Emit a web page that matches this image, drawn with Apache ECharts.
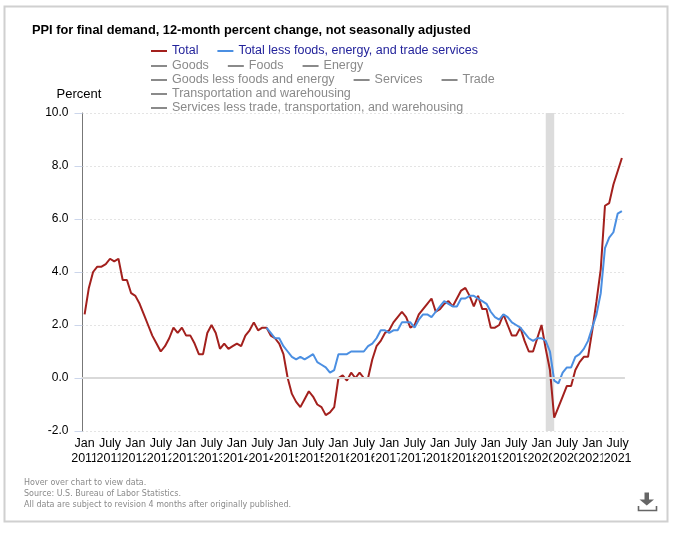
<!DOCTYPE html>
<html>
<head>
<meta charset="utf-8">
<script src="https://cdn.jsdelivr.net/npm/echarts@6/dist/echarts.min.js"></script>
<style>
html,body{margin:0;padding:0;background:#fff;}
#chart{width:678px;height:534px;}
</style>
</head>
<body>
<div id="chart"></div>
<script>
// Months Jan 2011 .. Aug 2021
var startYear = 2011, endYear = 2021, endMonth = 8;
var categories = [];
for (var y = startYear; y <= endYear; y++) {
  for (var m = 1; m <= 12; m++) {
    if (y === endYear && m > endMonth) break;
    categories.push(y + '-' + (m < 10 ? '0' + m : '' + m));
  }
}

// PPI final demand, 12-month percent change (Total)
var total = [
  2.4, 3.4, 4.0, 4.2, 4.2, 4.3, 4.5, 4.4, 4.5, 3.7, 3.7, 3.2,   // 2011
  3.1, 2.8, 2.4, 2.0, 1.6, 1.3, 1.0, 1.2, 1.5, 1.9, 1.7, 1.9,   // 2012
  1.6, 1.6, 1.3, 0.9, 0.9, 1.7, 2.0, 1.7, 1.1, 1.3, 1.1, 1.2,   // 2013
  1.3, 1.2, 1.6, 1.8, 2.1, 1.8, 1.9, 1.9, 1.6, 1.5, 1.3, 0.9,   // 2014
  0.0, -0.6, -0.9, -1.1, -0.8, -0.5, -0.7, -1.0, -1.1, -1.4, -1.3, -1.1, // 2015
  0.0, 0.1, -0.1, 0.2, 0.0, 0.2, 0.0, 0.0, 0.7, 1.2, 1.4, 1.7,  // 2016
  1.8, 2.1, 2.3, 2.5, 2.3, 1.9, 2.0, 2.4, 2.6, 2.8, 3.0, 2.5,   // 2017
  2.6, 2.8, 2.9, 2.7, 3.0, 3.3, 3.4, 3.1, 2.7, 3.1, 2.6, 2.6,   // 2018
  1.9, 1.9, 2.0, 2.4, 2.0, 1.6, 1.6, 1.9, 1.4, 1.0, 1.0, 1.5,   // 2019
  2.0, 1.1, 0.3, -1.5, -1.1, -0.7, -0.3, -0.3, 0.3, 0.6, 0.8, 0.8, // 2020
  1.8, 2.9, 4.1, 6.5, 6.6, 7.3, 7.8, 8.3                        // 2021
];

// Total less foods, energy, and trade services (series begins Aug 2014)
var coreStart = '2014-08';
var core = [
  1.9, 1.7, 1.5, 1.5, 1.2,                                      // 2014
  1.0, 0.8, 0.7, 0.8, 0.7, 0.8, 0.9, 0.6, 0.5, 0.4, 0.2, 0.3,   // 2015
  0.9, 0.9, 0.9, 1.0, 1.0, 1.0, 1.0, 1.2, 1.3, 1.5, 1.8, 1.8,   // 2016
  1.7, 1.8, 1.8, 2.1, 2.1, 2.1, 1.9, 2.2, 2.4, 2.4, 2.3, 2.5,   // 2017
  2.7, 2.9, 2.8, 2.7, 2.7, 3.0, 3.0, 3.1, 3.1, 3.0, 2.9, 2.8,   // 2018
  2.5, 2.3, 2.2, 2.4, 2.3, 2.1, 2.0, 1.9, 1.7, 1.5, 1.4, 1.5,   // 2019
  1.5, 1.4, 1.0, -0.1, -0.2, 0.2, 0.4, 0.4, 0.8, 0.9, 1.1, 1.4, // 2020
  1.9, 2.4, 3.2, 4.9, 5.3, 5.5, 6.2, 6.3                        // 2021
];

var yTicks = { min: -2, max: 10, interval: 2 };
var recession = ['2020-02', '2020-04'];
var monthLabels = { '01': 'Jan', '07': 'July' };

var seriesNames = ['Total', 'Total less foods, energy, and trade services'];
var legendRows = [
  ['Total', 'Total less foods, energy, and trade services'],
  ['Goods', 'Foods', 'Energy'],
  ['Goods less foods and energy', 'Services', 'Trade'],
  ['Transportation and warehousing'],
  ['Services less trade, transportation, and warehousing']
];
var inactiveNames = ['Goods', 'Foods', 'Energy', 'Goods less foods and energy', 'Services', 'Trade',
  'Transportation and warehousing', 'Services less trade, transportation, and warehousing'];

var footerLines = [
  'Hover over chart to view data.',
  'Source: U.S. Bureau of Labor Statistics.',
  'All data are subject to revision 4 months after originally published.'
];

var coreOffset = categories.indexOf(coreStart);
var coreData = [];
for (var i = 0; i < coreOffset; i++) coreData.push(null);
coreData = coreData.concat(core);

var FONT = 'Liberation Sans, Arial, sans-serif';
var selectedMap = {};
inactiveNames.forEach(function (n) { selectedMap[n] = false; });

var legendTops = [44, 59, 73, 87, 101];
var legends = legendRows.map(function (row, k) {
  return {
    data: row,
    left: 151,
    top: legendTops[k],
    padding: 0,
    itemGap: 19,
    itemWidth: 16,
    itemHeight: 2,
    icon: 'rect',
    inactiveColor: '#8a8a8a',
    selected: selectedMap,
    textStyle: { fontSize: 12.5, color: '#23239b', fontFamily: FONT, lineHeight: 14 }
  };
});

var series = [
  {
    name: seriesNames[0], type: 'line', data: total, showSymbol: false, symbol: 'none',
    lineStyle: { color: '#a3201d', width: 2 }, itemStyle: { color: '#a3201d' },
    z: 3,
    markArea: {
      silent: true,
      itemStyle: { color: '#dcdcdc' },
      data: [[{ xAxis: recession[0] }, { xAxis: recession[1] }]]
    },
    markLine: {
      silent: true, symbol: ['none', 'none'], label: { show: false },
      lineStyle: { color: '#d9d9d9', width: 2, type: 'solid' },
      data: [{ yAxis: 0 }]
    }
  },
  {
    name: seriesNames[1], type: 'line', data: coreData, showSymbol: false, symbol: 'none',
    lineStyle: { color: '#4b8fe2', width: 2 }, itemStyle: { color: '#4b8fe2' }, z: 4
  }
];
inactiveNames.forEach(function (n) {
  series.push({ name: n, type: 'line', data: [], symbol: 'none', lineStyle: { color: '#8a8a8a' }, itemStyle: { color: '#8a8a8a' } });
});

var graphics = [
  { type: 'rect', shape: { x: 4.5, y: 6.5, width: 663, height: 515 }, style: { fill: 'none', stroke: '#d0d0d0', lineWidth: 2 }, silent: true, z: -10 }
];
footerLines.forEach(function (t, k) {
  graphics.push({ type: 'text', x: 24, y: 483 + k * 11, style: { text: t, font: '8px "DejaVu Sans", sans-serif', fill: '#8a8a8a', verticalAlign: 'middle' }, silent: true });
});
graphics.push({ type: 'rect', shape: { x: 644.5, y: 492.5, width: 4.5, height: 7.5 }, style: { fill: '#666' }, silent: true });
graphics.push({ type: 'polygon', shape: { points: [[639.5, 499.5], [654, 499.5], [646.75, 505.5]] }, style: { fill: '#666' }, silent: true });
graphics.push({ type: 'polyline', shape: { points: [[638.5, 506], [638.5, 510.5], [656.5, 510.5], [656.5, 506]] }, style: { stroke: '#666', lineWidth: 1.6, fill: 'none' }, silent: true });

var option = {
  animation: false,
  backgroundColor: '#fff',
  title: {
    text: 'PPI for final demand, 12-month percent change, not seasonally adjusted',
    left: 32, top: 24, padding: 0,
    textStyle: { fontSize: 12.8, fontWeight: 'bold', color: '#000', fontFamily: FONT }
  },
  legend: legends,
  grid: { left: 82.5, right: 54, top: 113, bottom: 103, containLabel: false, outerBoundsMode: 'none' },
  xAxis: {
    type: 'category',
    data: categories,
    boundaryGap: true,
    axisLine: { show: true, lineStyle: { color: '#d0d0d0', width: 2 } },
    axisTick: { show: false },
    splitLine: { show: false },
    axisLabel: {
      interval: 0,
      formatter: function (val) {
        var mon = monthLabels[val.slice(5)];
        if (!mon) return '';
        return '{b|' + mon + '}\n{b|' + val.slice(0, 4) + '}';
      },
      hideOverlap: false,
      color: '#000', fontSize: 12.5, fontFamily: FONT, lineHeight: 15, margin: 5,
      rich: {
        b: { backgroundColor: '#fff', padding: [0, 1, 0, 1], color: '#000', fontSize: 12.5, fontFamily: FONT, lineHeight: 15 }
      }
    }
  },
  yAxis: {
    type: 'value',
    min: yTicks.min, max: yTicks.max, interval: yTicks.interval,
    name: 'Percent', nameLocation: 'end', nameGap: 12,
    nameTextStyle: { color: '#000', fontSize: 13, fontFamily: FONT, padding: [0, 7, 0, 0] },
    axisLine: { show: true, lineStyle: { color: '#777', width: 1 } },
    axisTick: { show: true, length: 8, lineStyle: { color: '#ccd6eb', width: 1 } },
    axisLabel: { color: '#000', fontSize: 12, fontFamily: FONT, margin: 14, formatter: function (v) { return v.toFixed(1); } },
    splitLine: { show: true, lineStyle: { color: '#c8c8c8', type: [1, 3], width: 1 } }
  },
  series: series,
  graphic: graphics
};

var chart = echarts.init(document.getElementById('chart'), null, { renderer: 'canvas' });
chart.setOption(option);
</script>
</body>
</html>
